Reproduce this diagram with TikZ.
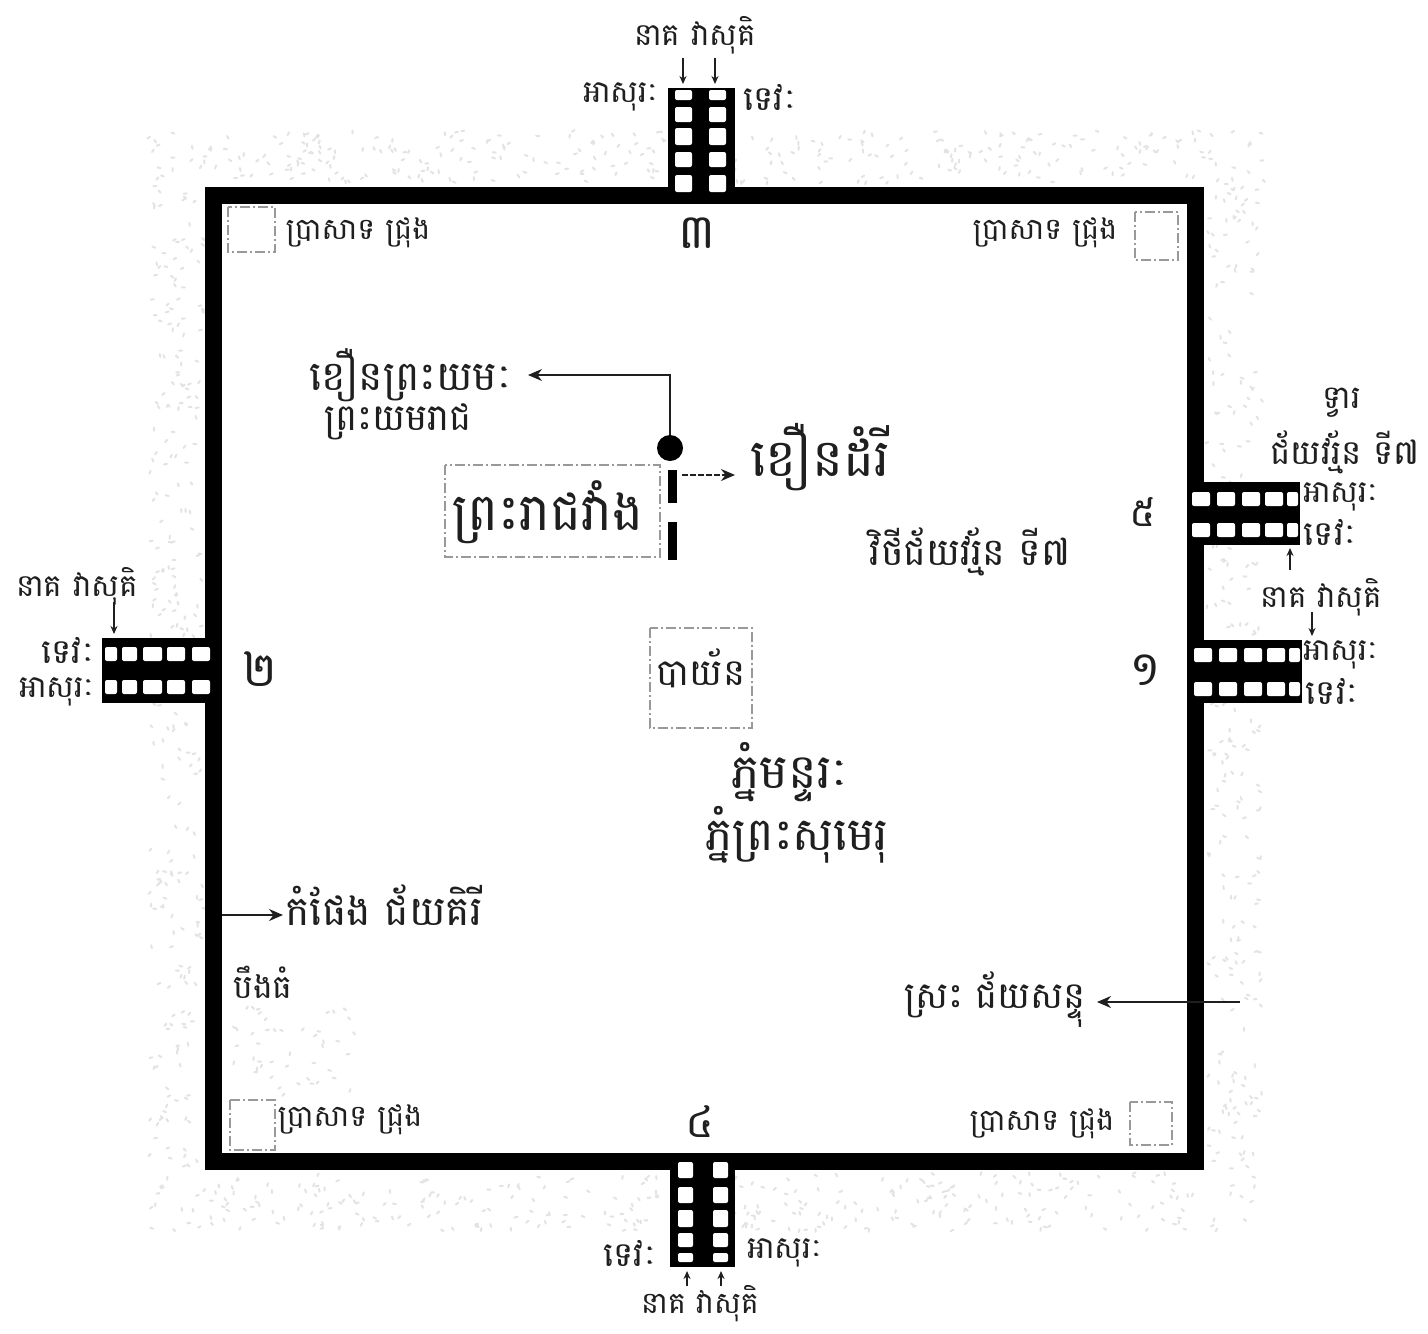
\documentclass[tikz,border=0pt]{standalone}
\usepackage{fontspec}
\usetikzlibrary{arrows.meta}
\newfontfamily\km[Script=Khmer]{Battambang}
\definecolor{inkgray}{gray}{0.12}
\definecolor{dashgray}{gray}{0.6}
\definecolor{speckgray}{gray}{0.89}
\newcommand{\specks}[5]{%
  \foreach \i in {1,...,#5}{%
    \pgfmathsetmacro\sx{#1+rnd*(#3-#1)}%
    \pgfmathsetmacro\sy{#2+rnd*(#4-#2)}%
    \pgfmathsetmacro\sa{rnd*180}%
    \draw[speckgray,line width=1pt,line cap=round] (\sx,\sy) -- ++(\sa:3);
  }}
\tikzset{
  lbl/.style={font=\km\fontsize{#1}{#1}\selectfont,inner sep=0pt,text=inkgray},
  wall/.style={draw=black,line width=8.5pt,line join=miter},
  arr/.style={draw=inkgray,line width=0.8pt,-{Stealth[length=7pt,width=6pt]}},
  tinyarr/.style={draw=inkgray,line width=0.9pt,-{Stealth[length=4pt,width=3.5pt]}},
  dbox/.style={draw=dashgray,line width=0.7pt,dash pattern=on 5pt off 1.5pt on 1pt off 1.5pt},
  gatebody/.style={fill=black},
  win/.style={fill=white,rounded corners=1pt}
}
\begin{document}
\begin{tikzpicture}[x=0.5pt,y=-0.5pt]
\useasboundingbox (0,0) rectangle (1428,1333);
\fill[white] (0,0) rectangle (1428,1333);
\pgfmathsetseed{7}
% moat speckle
\specks{150}{130}{1265}{182}{330}
\specks{150}{1172}{1255}{1230}{330}
\specks{150}{182}{203}{1172}{260}
\specks{1207}{182}{1262}{1172}{260}
\specks{232}{1005}{365}{1095}{45}
% wall
\draw[wall] (213.5,195) rectangle (1195,1161);
% gates
\fill[gatebody] (668,88) rectangle (735,200);
\foreach \c in {675,709}{\foreach \a/\b in {90/100,107/122,128/145,152/167,175/192}{
  \fill[win] (\c,\a) rectangle ++(17,\b-\a);}}
\fill[gatebody] (670,1156) rectangle (735,1267);
\foreach \c in {678,713}{\foreach \a/\b in {1162/1178,1187/1203,1210/1227,1233/1247,1253/1262}{
  \fill[win] (\c,\a) rectangle ++(15,\b-\a);}}
\fill[gatebody] (1190,482) rectangle (1300,545);
\foreach \r in {492,523}{\foreach \a/\b in {1192/1210,1217/1235,1242/1260,1265/1283,1287/1298}{
  \fill[win] (\a,\r) rectangle (\b,\r+14);}}
\fill[gatebody] (1190,640) rectangle (1302,703);
\foreach \r in {648,682}{\foreach \a/\b in {1194/1212,1219/1237,1244/1262,1267/1285,1289/1300}{
  \fill[win] (\a,\r) rectangle (\b,\r+14);}}
\fill[gatebody] (102,638) rectangle (218,703);
\foreach \r in {647,680}{\foreach \a/\b in {105/117,122/137,143/162,167/185,192/210}{
  \fill[win] (\a,\r) rectangle (\b,\r+14);}}
% dashed outlines
\draw[dbox] (445,465) rectangle (660,557);
\draw[dbox] (650,628) rectangle (752,728);
\draw[dbox] (228,207) rectangle (275,252);
\draw[dbox] (1135,212) rectangle (1178,260);
\draw[dbox] (230,1100) rectangle (275,1150);
\draw[dbox] (1130,1102) rectangle (1172,1145);
% causeway bars and dot
\fill[black] (667.5,470) rectangle (676.5,503);
\fill[black] (667.5,522) rectangle (676.5,560);
\node[circle,fill=black,minimum size=13pt,inner sep=0pt] (dot) at (670,448) {};
% labels
\node[lbl=15.5] (ntop) at (695,35) {នាគ វាសុគិ};
\node[lbl=15.5] (atop) at (621,97) {អាសុរៈ};
\node[lbl=17] (dtop) at (770,97) {ទេវៈ};
\node[lbl=24] (n3) at (697,233) {៣};
\node[lbl=15] (cTL) at (358,233) {ប្រាសាទ ជ្រុង};
\node[lbl=15] (cTR) at (1045,233) {ប្រាសាទ ជ្រុង};
\node[lbl=15] (cBL) at (350,1120) {ប្រាសាទ ជ្រុង};
\node[lbl=15] (cBR) at (1042,1124) {ប្រាសាទ ជ្រុង};
\node[lbl=20.5] (yama) at (411,375) {ខឿនព្រះយមៈ};
\node[lbl=18.5] (yamaraj) at (398,422) {ព្រះយមរាជ};
\node[lbl=26] (elephant) at (820,457) {ខឿនដំរី};
\node[lbl=26] (palace) at (548,512) {ព្រះរាជវាំង};
\node[lbl=19] (road) at (970,552) {វិថីជ័យវរ្ម័ន ទី៧};
\node[lbl=18.5] (bayon) at (701,668) {បាយ័ន};
\node[lbl=24] (meru1) at (790,772) {ភ្នំមន្ទរៈ};
\node[lbl=23] (meru2) at (797,835) {ភ្នំព្រះសុមេរុ};
\node[lbl=20.5] (kom) at (384,905) {កំផែង ជ័យគិរី};
\node[lbl=16.5] (beng) at (263,982) {បឹងធំ};
\node[lbl=18.5] (srah) at (995,1000) {ស្រះ ជ័យសន្ទុ};
\node[lbl=16] (dvar) at (1342,403) {ទ្វារ};
\node[lbl=17] (jv) at (1345,452) {ជ័យវរ្ម័ន ទី៧};
\node[lbl=15.5] (a5) at (1341,497) {អាសុរៈ};
\node[lbl=17] (d5) at (1330,532) {ទេវៈ};
\node[lbl=15.5] (n5) at (1321,597) {នាគ វាសុគិ};
\node[lbl=15.5] (a1) at (1341,655) {អាសុរៈ};
\node[lbl=17] (d1) at (1332,691) {ទេវៈ};
\node[lbl=20] (g5) at (1143,512) {៥};
\node[lbl=24] (g1) at (1145,670) {១};
\node[lbl=15.5] (nl) at (77,586) {នាគ វាសុគិ};
\node[lbl=17] (dl) at (68,650) {ទេវៈ};
\node[lbl=15.5] (al) at (57,692) {អាសុរៈ};
\node[lbl=24] (g2) at (260,669) {២};
\node[lbl=22] (g4) at (700,1122) {៤};
\node[lbl=17] (db) at (630,1253) {ទេវៈ};
\node[lbl=15.5] (ab) at (785,1253) {អាសុរៈ};
\node[lbl=15] (nb) at (700,1304) {នាគ វាសុគិ};
% free connector ends
\coordinate (t1a) at (683,58); \coordinate (t1b) at (683,84);
\coordinate (t2a) at (715,58); \coordinate (t2b) at (715,84);
\coordinate (b1a) at (687,1286); \coordinate (b1b) at (687,1271);
\coordinate (b2a) at (721,1286); \coordinate (b2b) at (721,1271);
\coordinate (r5a) at (1290,570); \coordinate (r5b) at (1290,548);
\coordinate (r1a) at (1312,612); \coordinate (r1b) at (1312,636);
\coordinate (lga) at (114,602); \coordinate (lgb) at (114,634);
\coordinate (komS) at (222,915); \coordinate (komE) at (283,915);
\coordinate (srahS) at (1240,1002); \coordinate (srahE) at (1097,1002);
\coordinate (yamaC) at (670,375); \coordinate (yamaE) at (528,375);
\coordinate (eleS) at (682,475); \coordinate (eleE) at (735,475);
% connectors
\foreach \p/\q in {t1a/t1b,t2a/t2b,b1a/b1b,b2a/b2b,r5a/r5b,r1a/r1b,lga/lgb}{\draw[tinyarr] (\p) -- (\q);}
\draw[arr] (komS) -- (komE);
\draw[arr] (srahS) -- (srahE);
\draw[arr] (dot) -- (yamaC) -- (yamaE);
\draw[arr,dash pattern=on 3pt off 1pt] (eleS) -- (eleE);
\end{tikzpicture}
\end{document}
